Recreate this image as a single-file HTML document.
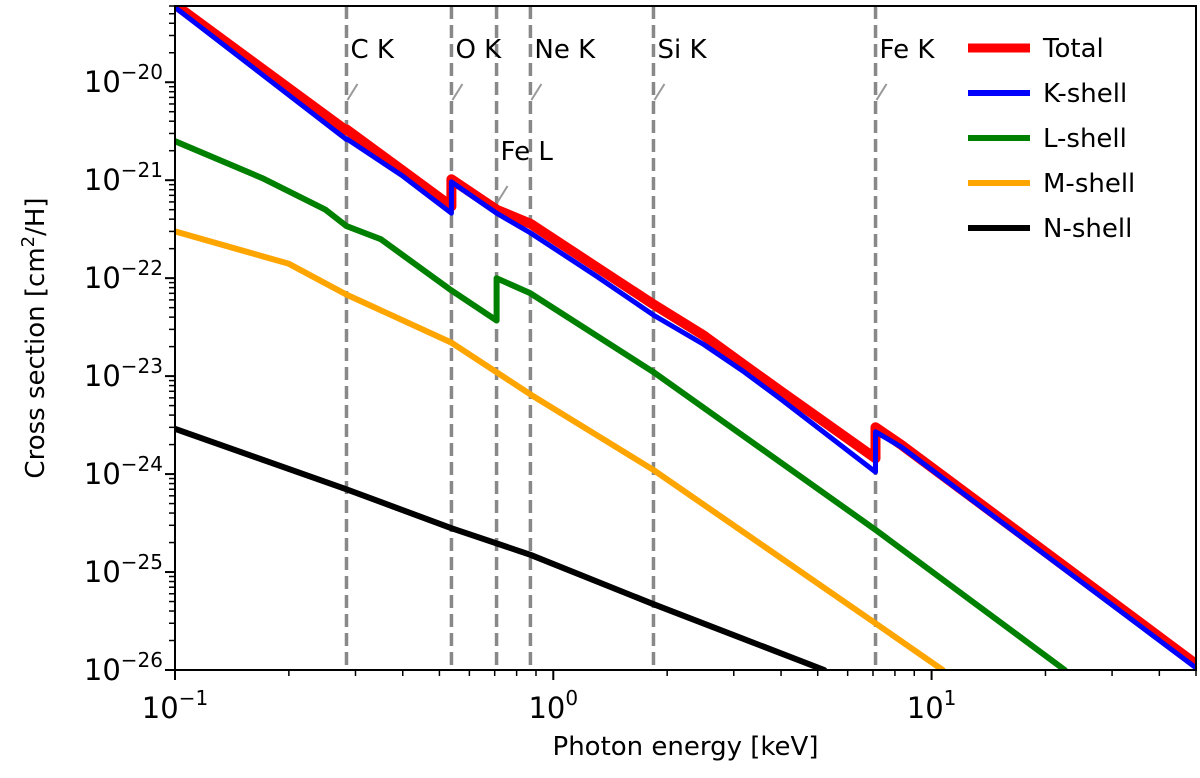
<!DOCTYPE html>
<html><head><meta charset="utf-8"><style>
body{margin:0;background:#fff;}
svg{display:block;font-family:"DejaVu Sans","Liberation Sans",sans-serif;}
</style></head><body>
<svg id="chart" width="1200" height="778"></svg>
<script>
const xTickValues=[0.1,1,10];
const xTickExps=["−1","0","1"];
const yTickExps=[-20,-21,-22,-23,-24,-25,-26];
const edgeNames=["C K","O K","Fe L","Ne K","Si K","Fe K"];
const edgeEnergies=[0.284,0.538,0.708,0.870,1.84,7.11];
const seriesNames=["Total","K-shell","L-shell","M-shell","N-shell"];
const seriesColors=["#ff0000","#0000ff","#008000","#ffa500","#000000"];
const totalE=[0.1,0.284,0.284,0.4,0.538,0.538,0.708,0.87,1.3,1.84,2.5,3.2,4,7.11,7.11,8.3,50];
const totalS=[6.2e-20,3.2e-21,3.3e-21,1.25e-21,5.4e-22,1.02e-21,5.0e-22,3.6e-22,1.3e-22,5.4e-23,2.6e-23,1.3e-23,7e-24,1.45e-24,3.0e-24,2.0e-24,1.15e-26];
const kE=[0.1,0.284,0.284,0.4,0.538,0.538,0.708,0.87,1.3,1.84,2.5,3.2,4,7.11,7.11,8.3,50];
const kS=[5.8e-20,2.6e-21,2.65e-21,1.1e-21,4.6e-22,9.6e-22,4.6e-22,2.9e-22,1.05e-22,4.2e-23,2.1e-23,1.1e-23,5.8e-24,1.05e-24,2.7e-24,1.9e-24,1.05e-26];
const lE=[0.1,0.17,0.25,0.284,0.35,0.538,0.708,0.708,0.87,1.84,7.11,22.5];
const lS=[2.5e-21,1.05e-21,5e-22,3.4e-22,2.5e-22,7.5e-23,3.7e-23,1.0e-22,7e-23,1.1e-23,2.7e-25,1e-26];
const mE=[0.1,0.2,0.284,0.538,0.87,1.84,7.11,10.7];
const mS=[3e-22,1.4e-22,6.8e-23,2.2e-23,6.5e-24,1.1e-24,3e-26,1e-26];
const nE=[0.1,0.284,0.538,0.87,1.84,5.2];
const nS=[2.9e-24,7e-25,2.8e-25,1.5e-25,4.7e-26,1e-26];

const L=175,R=1196,T=6,B=670;
const xMin=0.1,xMax=50,yMin=1e-26,yMax=6e-20;
const X=v=>L+(Math.log10(v)-Math.log10(xMin))/(Math.log10(xMax)-Math.log10(xMin))*(R-L);
const Y=v=>B-(Math.log10(v)-Math.log10(yMin))/(Math.log10(yMax)-Math.log10(yMin))*(B-T);
const NS="http://www.w3.org/2000/svg";
const svg=document.getElementById('chart');
function mk(tag,attrs,parent){const e=document.createElementNS(NS,tag);for(const k in attrs)e.setAttribute(k,attrs[k]);(parent||svg).appendChild(e);return e;}

const defs=mk('defs',{});
const cp=mk('clipPath',{id:'clip'},defs);mk('rect',{x:L,y:T,width:R-L,height:B-T},cp);

edgeEnergies.forEach((e,i)=>{
  const ln=mk('line',{x1:X(e),x2:X(e),y1:T,y2:B,stroke:'#888',"stroke-width":3.5,"stroke-dasharray":"13,6"});
  
  
});

const plotG=mk('g',{"clip-path":"url(#clip)"});
const series=[[nE,nS,6],[mE,mS,6],[lE,lS,6],[totalE,totalS,10],[kE,kS,5]];
const idx=[4,3,2,0,1];
series.forEach((s,j)=>{
  const i=idx[j];
  const pts=s[0].map((e,k)=>X(e).toFixed(1)+','+Y(s[1][k]).toFixed(1)).join(' ');
  const pl=mk('polyline',{points:pts,fill:'none',stroke:seriesColors[i],"stroke-width":s[2],"stroke-linejoin":"round","stroke-linecap":"round"},plotG);
  
  
});

const labY=[58,58,160,58,58,58];
edgeEnergies.forEach((e,i)=>{
  const x=X(e);
  const y=labY[i];
  const t=mk('text',{x:x+4,y:y,"font-size":26,fill:'#000'});
  t.textContent=edgeNames[i];
  
  
  const sl=mk('line',{x1:x+1,y1:y+42,x2:x+11,y2:y+26,stroke:'#999',"stroke-width":2});
  
  
});

const fr=mk('rect',{x:L,y:T,width:R-L,height:B-T,fill:'none',stroke:'#000',"stroke-width":2});



for(let d=-1;d<=1;d++){for(let m=1;m<10;m++){const v=m*Math.pow(10,d);if(v>xMax)break;
  const x=X(v);mk('line',{x1:x,x2:x,y1:B,y2:B+(m==1?10:6),stroke:'#000',"stroke-width":m==1?2:1.5});}}
xTickValues.forEach((v,i)=>{
  const t=mk('text',{x:X(v),y:B+48,"font-size":29,"text-anchor":"middle"});
  t.innerHTML='10<tspan dy="-13" font-size="20">'+xTickExps[i]+'</tspan>';
  
  
});
for(let d=-26;d<=-20;d++){for(let m=1;m<10;m++){const v=m*Math.pow(10,d);if(v>yMax)break;
  const y=Y(v);mk('line',{x1:L,x2:L-(m==1?10:6),y1:y,y2:y,stroke:'#000',"stroke-width":m==1?2:1.5});}}
yTickExps.forEach(e=>{
  const t=mk('text',{x:L-12,y:Y(Math.pow(10,e))+10,"font-size":29,"text-anchor":"end"});
  t.innerHTML='10<tspan dy="-13" font-size="20">−'+(-e)+'</tspan>';
  
  
});
const xt=mk('text',{x:(L+R)/2,y:755,"font-size":26,"text-anchor":"middle"});
xt.textContent='Photon energy [keV]';


const yt=mk('text',{x:0,y:0,"font-size":26,"text-anchor":"middle",transform:'translate(44,338) rotate(-90)'});
yt.innerHTML='Cross section [cm<tspan dy="-10" font-size="18">2</tspan><tspan dy="10">/H]</tspan>';



const lg=mk('g',{});


mk('rect',{x:958,y:20,width:222,height:232,fill:'#fff',"fill-opacity":0.8,stroke:'none'},lg);
seriesNames.forEach((n,i)=>{
  const y=48+i*45;
  const g=mk('g',{},lg);
  
  
  mk('line',{x1:968,x2:1030,y1:y,y2:y,stroke:seriesColors[i],"stroke-width":i==0?9:6},g);
  const t=mk('text',{x:1043,y:y+9,"font-size":26},g);t.textContent=n;
});
</script>
</body></html>
